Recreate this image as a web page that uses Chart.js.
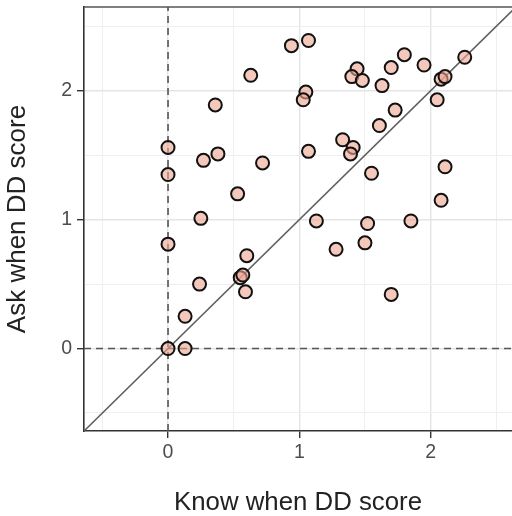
<!DOCTYPE html>
<html>
<head>
<meta charset="utf-8">
<script src="https://cdn.jsdelivr.net/npm/chart.js@4"></script>
<style>
  html, body { margin: 0; padding: 0; background: #fff; }
  #chart { display: block; }
</style>
</head>
<body>
<canvas id="chart" width="512" height="516"></canvas>
<script>
// Know vs Ask DD scores, one point per respondent
const knowX = [0, 0, 0, 0, 0.13, 0.13, 0.24, 0.25, 0.27, 0.38, 0.36, 0.63, 0.53, 0.72, 0.60, 0.55,
  0.57, 0.59, 0.94, 1.07, 1.05, 1.03, 1.07, 1.33, 1.41, 1.39, 1.44, 1.40, 1.48, 1.63, 1.70, 1.73,
  1.61, 1.55, 1.13, 1.52, 1.28, 1.50, 1.70, 1.80, 1.95, 2.26, 2.08, 2.11, 2.05, 2.11, 2.08, 1.85];
const askY = [1.56, 1.35, 0.81, 0, 0, 0.25, 0.50, 1.01, 1.46, 1.51, 1.89, 2.12, 1.20, 1.44, 0.72, 0.55,
  0.57, 0.44, 2.35, 2.39, 1.99, 1.93, 1.53, 1.62, 1.56, 1.51, 2.17, 2.11, 2.08, 2.04, 2.18, 1.85,
  1.73, 1.36, 0.99, 0.97, 0.77, 0.82, 0.42, 2.28, 2.20, 2.26, 2.09, 2.11, 1.93, 1.41, 1.15, 0.99];

const xRange = [-0.64, 2.62];
const yRange = [-0.64, 2.65];
const xTicks = [-0.5, 0, 0.5, 1, 1.5, 2, 2.5];
const yTicks = [-0.5, 0, 0.5, 1, 1.5, 2, 2.5];

const FONT = "'Liberation Sans', Arial, sans-serif";

const gridColor = ctx => Number.isInteger(ctx.tick.value) ? '#e4e4e4' : '#efefef';
const gridWidth = ctx => Number.isInteger(ctx.tick.value) ? 1.4 : 1;
const tickColor = ctx => Number.isInteger(ctx.tick.value) ? '#333' : 'rgba(0,0,0,0)';
const tickLabel = v => Number.isInteger(v) ? String(v) : '';

// no overhang padding: the panel runs to the canvas edge
const noPad = s => { s.paddingTop = 0; s.paddingRight = 0; s.paddingLeft = 0; s.paddingBottom = 0; };

// top edge of the panel box
const panelTop = {
  id: 'panelTop',
  beforeDatasetsDraw(chart) {
    const { ctx, chartArea: a } = chart;
    ctx.save();
    ctx.strokeStyle = '#555';
    ctx.lineWidth = 1.5;
    ctx.beginPath();
    ctx.moveTo(a.left, a.top);
    ctx.lineTo(a.right, a.top);
    ctx.stroke();
    ctx.restore();
  }
};

const points = knowX.map((x, i) => ({ x: x, y: askY[i] }));

new Chart(document.getElementById('chart'), {
  type: 'scatter',
  data: {
    datasets: [
      {
        type: 'line',
        data: [{ x: 0, y: yRange[0] }, { x: 0, y: yRange[1] }],
        borderColor: '#555', borderWidth: 1.6, borderDash: [7, 5],
        pointRadius: 0, order: 2
      },
      {
        type: 'line',
        data: [{ x: xRange[0], y: 0 }, { x: xRange[1], y: 0 }],
        borderColor: '#555', borderWidth: 1.6, borderDash: [7, 5],
        pointRadius: 0, order: 2
      },
      {
        // y = x reference
        type: 'line',
        data: [{ x: -1, y: -1 }, { x: 3, y: 3 }],
        borderColor: '#5f5f5f', borderWidth: 1.6,
        pointRadius: 0, order: 1
      },
      {
        data: points,
        backgroundColor: 'rgba(238,163,143,0.6)',
        borderColor: '#111',
        borderWidth: 2,
        pointRadius: 6.5,
        order: 0
      }
    ]
  },
  options: {
    responsive: false,
    animation: false,
    layout: { autoPadding: false, padding: { top: 7, right: 0, left: 0, bottom: 0 } },
    plugins: { legend: { display: false }, tooltip: { enabled: false } },
    scales: {
      x: {
        type: 'linear',
        min: xRange[0], max: xRange[1],
        afterBuildTicks: s => { s.ticks = xTicks.map(v => ({ value: v })); },
        afterFit: s => { s.height = 85; noPad(s); },
        grid: { color: gridColor, lineWidth: gridWidth, tickColor: tickColor, tickLength: 7 },
        border: { display: true, color: '#333', width: 1.6 },
        ticks: {
          callback: tickLabel, color: '#4d4d4d', padding: 3,
          autoSkip: false, maxRotation: 0,
          font: { family: FONT, size: 19.5 }
        },
        title: {
          display: true, text: 'Know when DD score', color: '#222',
          font: { family: FONT, size: 25.8, lineHeight: 1 },
          padding: { top: 0, bottom: 0 }
        }
      },
      y: {
        type: 'linear',
        min: yRange[0], max: yRange[1],
        afterBuildTicks: s => { s.ticks = yTicks.map(v => ({ value: v })); },
        afterFit: s => { s.width = 84; noPad(s); },
        grid: { color: gridColor, lineWidth: gridWidth, tickColor: tickColor, tickLength: 7 },
        border: { display: true, color: '#333', width: 1.6 },
        ticks: {
          callback: tickLabel, color: '#4d4d4d', padding: 5,
          autoSkip: false,
          font: { family: FONT, size: 19.5 }
        },
        title: {
          display: true, text: 'Ask when DD score', color: '#222',
          font: { family: FONT, size: 26 },
          padding: { top: 2, bottom: 0 }
        }
      }
    }
  },
  plugins: [panelTop]
});
</script>
</body>
</html>
